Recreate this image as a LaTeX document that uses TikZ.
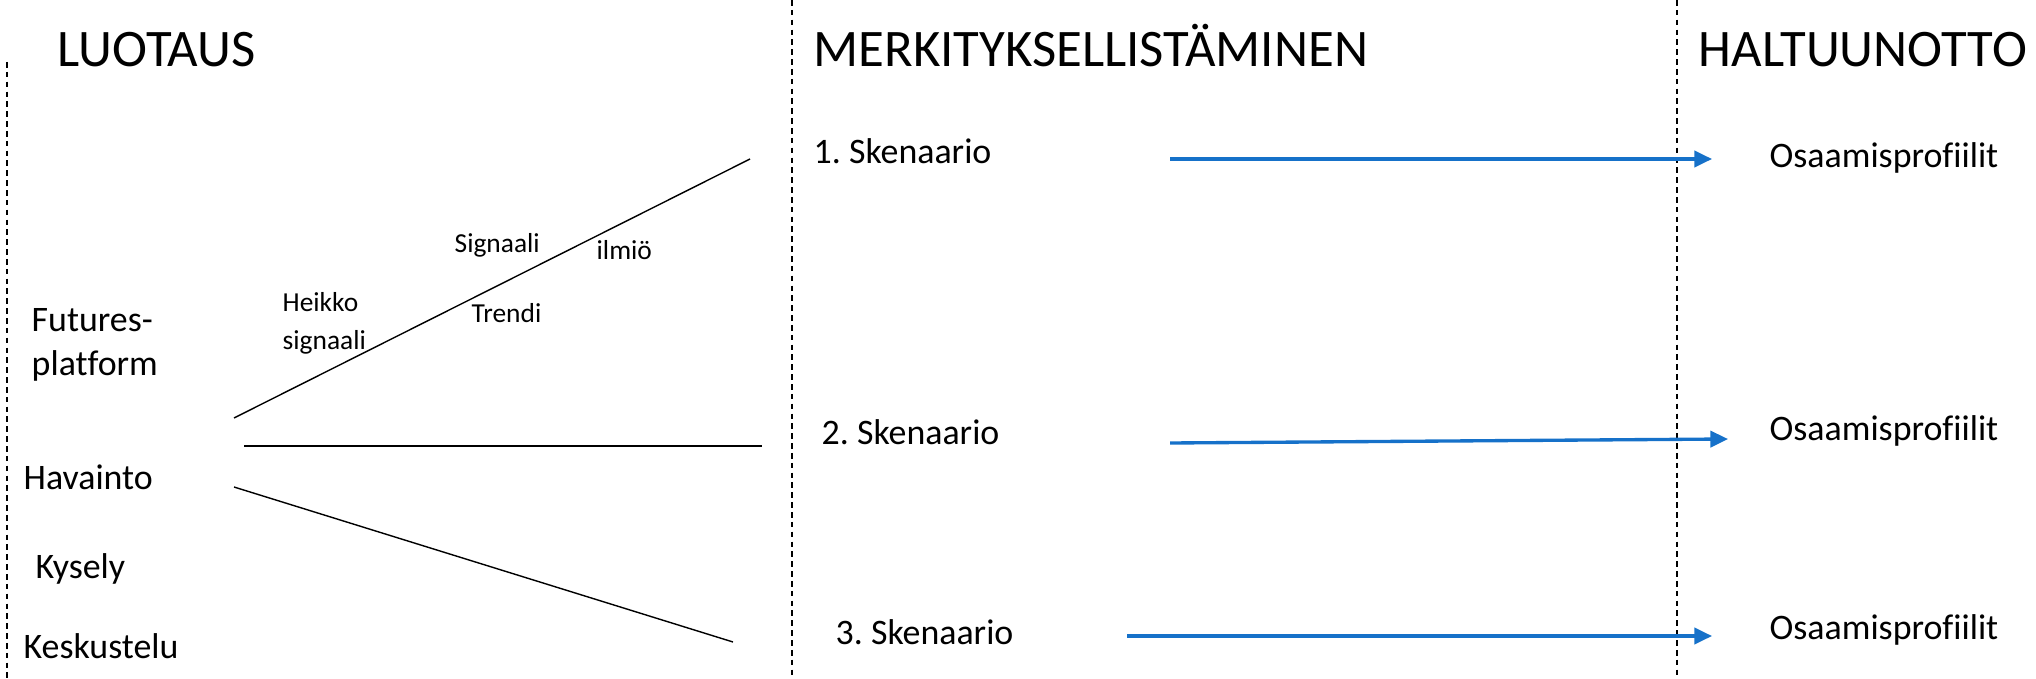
\documentclass[tikz,border=0pt]{standalone}
\usepackage{fontspec}
\setmainfont[Ligatures=NoCommon]{Carlito}
\usetikzlibrary{arrows.meta}
\definecolor{skblue}{RGB}{22,113,201}
\frenchspacing

\begin{document}
\begin{tikzpicture}[x=0.01cm, y=-0.01cm,
    divider/.style = {line width=0.55pt, dash pattern=on 1.6pt off 1.2pt},
    heading/.style = {anchor=base west, inner sep=0pt, font=\fontsize{15}{18}\selectfont},
    txt/.style = {anchor=base west, inner sep=0pt, align=left, font=\fontsize{10.2}{12.5}\selectfont},
    small/.style = {anchor=base west, inner sep=0pt, align=left, font=\fontsize{7.8}{10.7}\selectfont},
    spread/.style = {line width=0.4pt},
    scen/.style = {line width=0.95pt, skblue, -{Triangle[length=5pt, width=4.6pt]}}]

    \useasboundingbox (0,0) rectangle (2036,679);

    % dividers
    \draw[divider] (7,62) -- (7,679);
    \draw[divider] (792,0) -- (792,679);
    \draw[divider] (1677,0) -- (1677,679);

    % headings
    \node[heading] (luotaus) at (57,67) {LUOTAUS};
    \node[heading] (merkit) at (813,67) {MERKITYKSELLISTÄMINEN};
    \node[heading] (haltuun) at (1698,67) {HALTUUNOTTO};

    % sources
    \node[txt] (futures) at (31,375) {Futures-\\platform};
    \node[txt] (havainto) at (23,489) {Havainto};
    \node[txt] (kysely) at (35,578) {Kysely};
    \node[txt] (keskustelu) at (23,658) {Keskustelu};

    % spreading lines
    \coordinate (up0) at (234,418);
    \coordinate (up1) at (750,159);
    \coordinate (mid0) at (244,446);
    \coordinate (mid1) at (762,446);
    \coordinate (down0) at (234,487);
    \coordinate (down1) at (733,642);
    \draw[spread] (up0) -- (up1);
    \draw[spread] (mid0) -- (mid1);
    \draw[spread] (down0) -- (down1);

    \node[small] (heikko) at (282,349) {Heikko\\signaali};
    \node[small] (signaali) at (454,253) {Signaali};
    \node[small] (ilmio) at (596,260) {ilmiö};
    \node[small] (trendi) at (471,322) {Trendi};

    % scenarios
    \node[txt] (sk1) at (813,164) {1. Skenaario};
    \node[txt] (sk2) at (821,444) {2. Skenaario};
    \node[txt] (sk3) at (835,644) {3. Skenaario};

    \node[txt] (op1) at (1769,168) {Osaamisprofiilit};
    \node[txt] (op2) at (1769,440) {Osaamisprofiilit};
    \node[txt] (op3) at (1769,639) {Osaamisprofiilit};

    \coordinate (a1) at (1170,159);
    \coordinate (b1) at (1712,159);
    \coordinate (a2) at (1170,443);
    \coordinate (b2) at (1728,439);
    \coordinate (a3) at (1127,636);
    \coordinate (b3) at (1712,636);
    \draw[scen] (a1) -- (b1);
    \draw[scen] (a2) -- (b2);
    \draw[scen] (a3) -- (b3);

\end{tikzpicture}
\end{document}
